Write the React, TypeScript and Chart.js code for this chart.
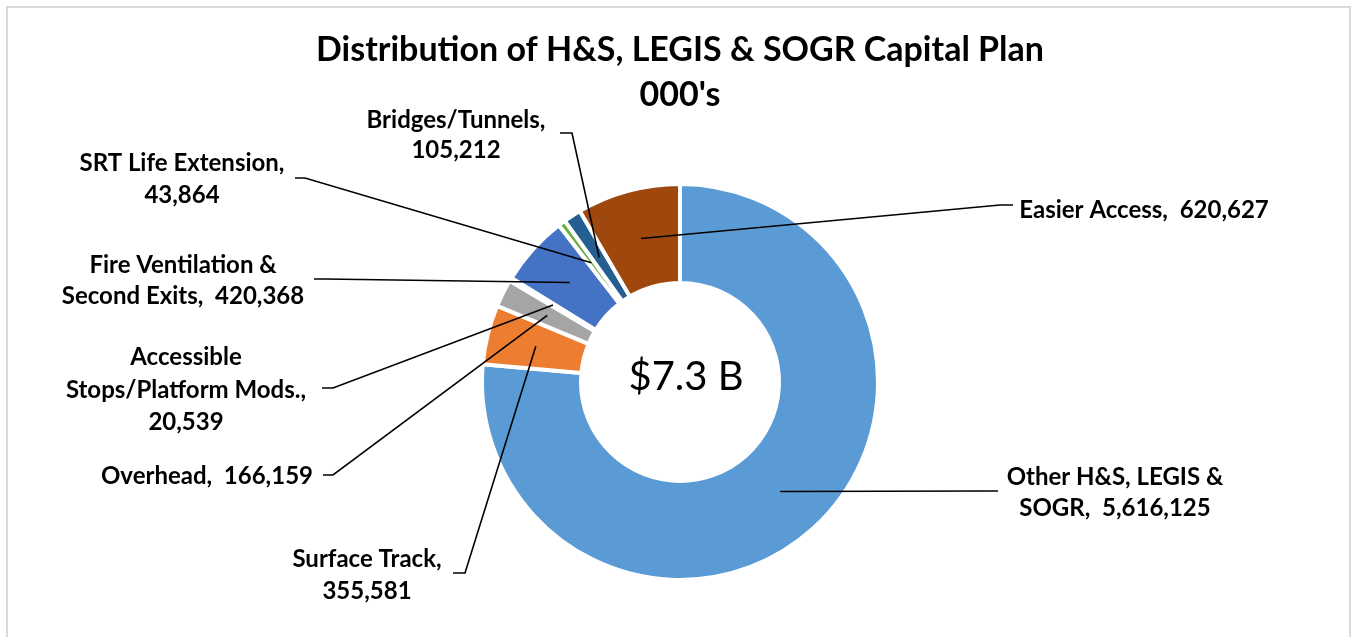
import React, { useEffect, useRef } from "react";
import { Chart, registerables } from "chart.js";

Chart.register(...registerables);

// ---- data ----
const categories = [
  "Other H&S, LEGIS & SOGR",
  "Surface Track",
  "Overhead",
  "Accessible Stops/Platform Mods.",
  "Fire Ventilation & Second Exits",
  "SRT Life Extension",
  "Bridges/Tunnels",
  "Easier Access",
];
const values = [5616125, 355581, 166159, 20539, 420368, 43864, 105212, 620627];
const sliceColors = [
  "#5B9BD5",
  "#ED7D31",
  "#A5A5A5",
  "#FFFFFF",
  "#4472C4",
  "#70AD47",
  "#255E91",
  "#9E480E",
];
const titleLines = ["Distribution of H&S, LEGIS & SOGR Capital Plan", "000's"];
const centerText = "$7.3 B";

const fmt = (v: number) => v.toLocaleString("en-US");

// label text wrapping (per slice)
const labelLines: ((v: string) => string[])[] = [
  (v) => ["Other H&S, LEGIS &", `SOGR,  ${v}`],
  (v) => ["Surface Track,", v],
  (v) => [`Overhead,  ${v}`],
  (v) => ["Accessible", "Stops/Platform Mods.,", v],
  (v) => ["Fire Ventilation &", `Second Exits,  ${v}`],
  (v) => ["SRT Life Extension,", v],
  (v) => ["Bridges/Tunnels,", v],
  (v) => [`Easier Access,  ${v}`],
];

// ---- label layout (leader elbow, leader end, text centre x, text line centres y) ----
const labelLayout = [
  { elbow: [985, 491], end: [998, 491], cx: 1115, ys: [477, 508] },
  { elbow: [465, 573], end: [453, 573], cx: 367, ys: [559, 591] },
  { elbow: [333, 475], end: [323, 475], cx: 207, ys: [476] },
  { elbow: [333, 388], end: [322, 388], cx: 186, ys: [357, 390, 422] },
  { elbow: [325, 279], end: [314, 279], cx: 183, ys: [265, 296] },
  { elbow: [305, 178], end: [295, 178], cx: 182, ys: [163, 195] },
  { elbow: [572, 133], end: [560, 133], cx: 456, ys: [120, 150] },
  { elbow: [1000, 205], end: [1013, 205], cx: 1144, ys: [210] },
];

const FONT = "Lato";

const framePlugin = {
  id: "frame",
  beforeDraw(chart: any) {
    const ctx = chart.ctx;
    ctx.save();
    ctx.fillStyle = "#FFFFFF";
    ctx.fillRect(0, 0, chart.width, chart.height);
    ctx.strokeStyle = "#D9D9D9";
    ctx.lineWidth = 2;
    ctx.strokeRect(7, 7, chart.width - 9, chart.height + 40);
    ctx.restore();
  },
};

const labelPlugin = {
  id: "sliceLabels",
  afterDatasetsDraw(chart: any) {
    const ctx = chart.ctx;
    const meta = chart.getDatasetMeta(0);
    ctx.save();
    // leader lines
    ctx.strokeStyle = "#000000";
    ctx.lineWidth = 1.6;
    meta.data.forEach((arc: any, i: number) => {
      const p = arc.tooltipPosition();
      const L = labelLayout[i];
      ctx.beginPath();
      ctx.moveTo(p.x, p.y);
      ctx.lineTo(L.elbow[0], L.elbow[1]);
      ctx.lineTo(L.end[0], L.end[1]);
      ctx.stroke();
    });
    // label texts
    ctx.fillStyle = "#000000";
    ctx.textAlign = "center";
    ctx.textBaseline = "middle";
    ctx.font = `bold 24px ${FONT}`;
    values.forEach((v, i) => {
      const lines = labelLines[i](fmt(v));
      const L = labelLayout[i];
      lines.forEach((t, k) => ctx.fillText(t, L.cx, L.ys[k]));
    });
    // centre text
    const a = meta.data[0];
    ctx.font = `40px ${FONT}`;
    ctx.fillText(centerText, a.x + 6, a.y - 5);
    ctx.restore();
  },
};

export default function App() {
  const ref = useRef<HTMLCanvasElement | null>(null);
  useEffect(() => {
    if (!ref.current) return;
    const chart = new Chart(ref.current, {
      type: "doughnut",
      data: {
        labels: categories,
        datasets: [
          {
            data: values,
            backgroundColor: sliceColors,
            borderColor: "#FFFFFF",
            borderWidth: 4,
            hoverOffset: 0,
          },
        ],
      },
      options: {
        responsive: false,
        animation: false,
        devicePixelRatio: 1,
        events: [],
        rotation: 0,
        radius: 198,
        cutout: "50%",
        layout: { padding: { left: 8, right: 0, top: 0, bottom: 13 } },
        plugins: {
          legend: { display: false },
          tooltip: { enabled: false },
          title: {
            display: true,
            text: titleLines,
            color: "#000000",
            font: { family: FONT, size: 34, weight: "bold", lineHeight: 1.32 },
            padding: { top: 28, bottom: 22 },
          },
        },
      } as any,
      plugins: [framePlugin, labelPlugin],
    });
    return () => chart.destroy();
  }, []);
  return (
    <div style={{ position: "fixed", left: 0, top: 0, width: 1352, height: 637, overflow: "hidden", background: "#fff" }}>
      <canvas ref={ref} width={1352} height={637} style={{ display: "block" }} />
    </div>
  );
}
